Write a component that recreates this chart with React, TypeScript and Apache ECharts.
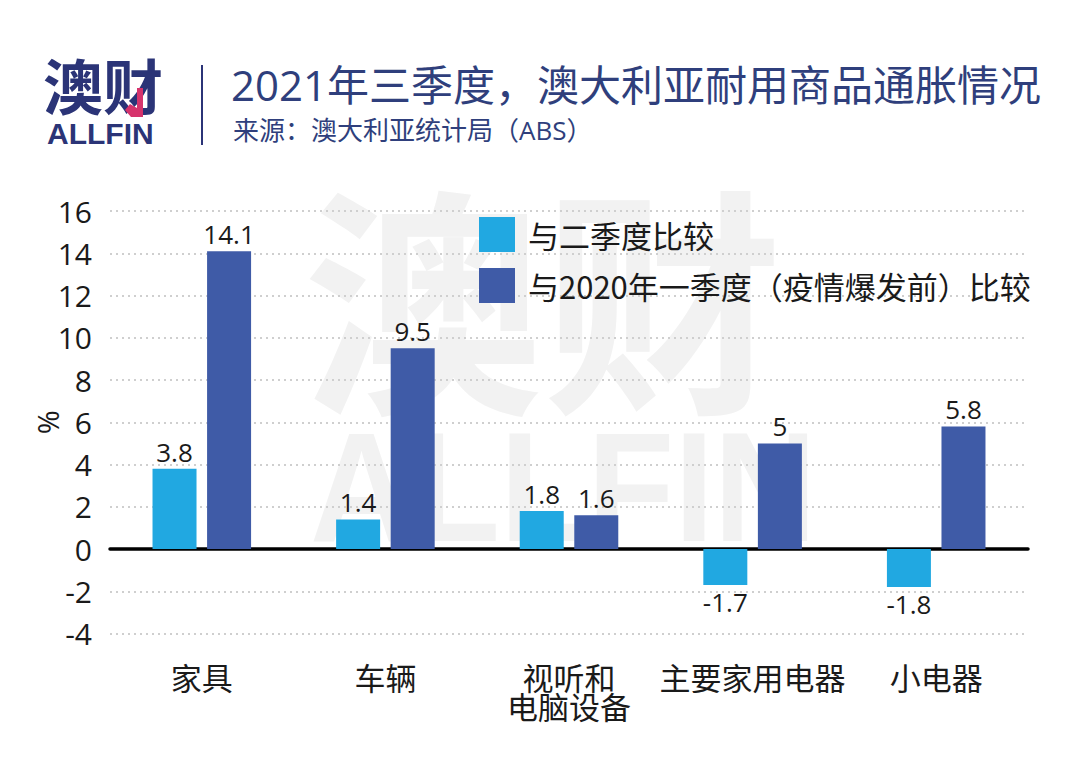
import React, { useEffect, useRef } from "react";
import * as echarts from "echarts";

const categories = ["家具", "车辆", "视听和\n电脑设备", "主要家用电器", "小电器"];
const seriesNames = ["与二季度比较", "与2020年一季度（疫情爆发前）比较"];
const vsQ2 = [3.8, 1.4, 1.8, -1.7, -1.8];
const vsPrePandemic = [14.1, 9.5, 1.6, 5, 5.8];
const yTicks = { min: -4, max: 16, interval: 2 };
const titleText = "2021年三季度，澳大利亚耐用商品通胀情况";
const sourceText = "来源：澳大利亚统计局（ABS）";

const FONT = "'Open Sans', 'Noto Sans CJK SC', sans-serif";
const CJK = "'Noto Sans CJK SC', sans-serif";
const NAVY = "#2b3477";
const LIGHT = "#21a8e1";
const DARK = "#3f5ba7";

function toData(values: number[]) {
  return values.map((v) => ({
    value: v,
    label: { position: v < 0 ? "bottom" : "top" },
  }));
}

export default function App() {
  const ref = useRef<HTMLDivElement>(null);
  useEffect(() => {
    if (!ref.current) return;
    const chart = echarts.init(ref.current, undefined, { renderer: "svg" });
    const labelStyle = {
      show: true,
      fontSize: 26,
      color: "#1a1a1a",
      fontFamily: FONT,
      distance: 4,
    };
    chart.setOption({
      animation: false,
      backgroundColor: "#ffffff",
      textStyle: { fontFamily: FONT },
      grid: {
        left: 110,
        right: 52,
        top: 211,
        bottom: 133.5,
        containLabel: false,
        outerBoundsMode: "none",
      },
      legend: {
        orient: "vertical",
        left: 479,
        top: 217,
        padding: 0,
        itemWidth: 36,
        itemHeight: 35,
        itemGap: 16,
        icon: "rect",
        textStyle: {
          fontSize: 31,
          color: "#1a1a1a",
          fontFamily: CJK,
          lineHeight: 35,
          padding: [0, 0, 0, 8],
        },
        data: seriesNames,
      },
      xAxis: {
        type: "category",
        data: categories,
        axisLine: { onZero: true, lineStyle: { color: "#000", width: 3.5 } },
        axisTick: { show: false },
        axisLabel: {
          fontSize: 31,
          color: "#1a1a1a",
          fontFamily: CJK,
          margin: 28,
          lineHeight: 29,
          interval: 0,
        },
      },
      yAxis: {
        type: "value",
        min: yTicks.min,
        max: yTicks.max,
        interval: yTicks.interval,
        name: "%",
        nameLocation: "middle",
        nameRotate: 90,
        nameGap: 48,
        nameMoveOverlap: false,
        nameTextStyle: { fontSize: 29, color: "#1a1a1a", fontFamily: FONT },
        axisLine: { show: false },
        axisTick: { show: false },
        axisLabel: { fontSize: 30, color: "#1a1a1a", margin: 18, fontFamily: FONT },
        splitLine: {
          lineStyle: { color: "#cfcfcf", width: 2, type: [2, 4] },
        },
      },
      series: [
        {
          name: seriesNames[0],
          type: "bar",
          data: toData(vsQ2),
          barWidth: 44,
          barGap: "24%",
          itemStyle: { color: LIGHT },
          label: labelStyle,
          z: 3,
        },
        {
          name: seriesNames[1],
          type: "bar",
          data: toData(vsPrePandemic),
          barWidth: 44,
          itemStyle: { color: DARK },
          label: labelStyle,
          z: 3,
        },
      ],
      graphic: [
        {
          type: "text",
          z: -10,
          x: 303,
          y: 170,
          style: {
            text: "澳财",
            fontSize: 240,
            fontWeight: "bold",
            fontFamily: CJK,
            fill: "#f2f2f2",
          },
        },
        {
          type: "text",
          z: -10,
          x: 310,
          y: 410,
          scaleX: 0.92,
          style: {
            text: "ALLFIN",
            fontSize: 155,
            fontWeight: "bold",
            fontFamily: "'Liberation Sans', sans-serif",
            fill: "#f2f2f2",
          },
        },
        {
          type: "text",
          x: 43,
          y: 53,
          style: {
            text: "澳财",
            fontSize: 60,
            fontWeight: "bold",
            fontFamily: CJK,
            fill: NAVY,
          },
        },
        {
          type: "polygon",
          z: 5,
          shape: {
            points: [
              [125, 110],
              [131, 117],
              [143, 117],
              [143, 88],
              [137, 88],
              [137, 108],
              [130, 104],
            ],
          },
          style: { fill: "#d6336c" },
        },
        {
          type: "text",
          x: 47,
          y: 118,
          style: {
            text: "ALLFIN",
            fontSize: 30,
            fontWeight: "bold",
            fontFamily: "'Liberation Sans', sans-serif",
            fill: NAVY,
          },
        },
        {
          type: "line",
          shape: { x1: 202, y1: 65, x2: 202, y2: 145 },
          style: { stroke: NAVY, lineWidth: 2 },
        },
        {
          type: "text",
          x: 231,
          y: 63,
          style: {
            text: titleText,
            fontSize: 42,
            fontFamily: FONT,
            fill: "#2f3f7c",
          },
        },
        {
          type: "text",
          x: 233,
          y: 117,
          style: {
            text: sourceText,
            fontSize: 26,
            fontFamily: FONT,
            fill: "#2f3f7c",
          },
        },
      ],
    });
    return () => chart.dispose();
  }, []);
  return (
    <div
      ref={ref}
      style={{ position: "fixed", left: 0, top: 0, width: 1080, height: 767 }}
    />
  );
}
